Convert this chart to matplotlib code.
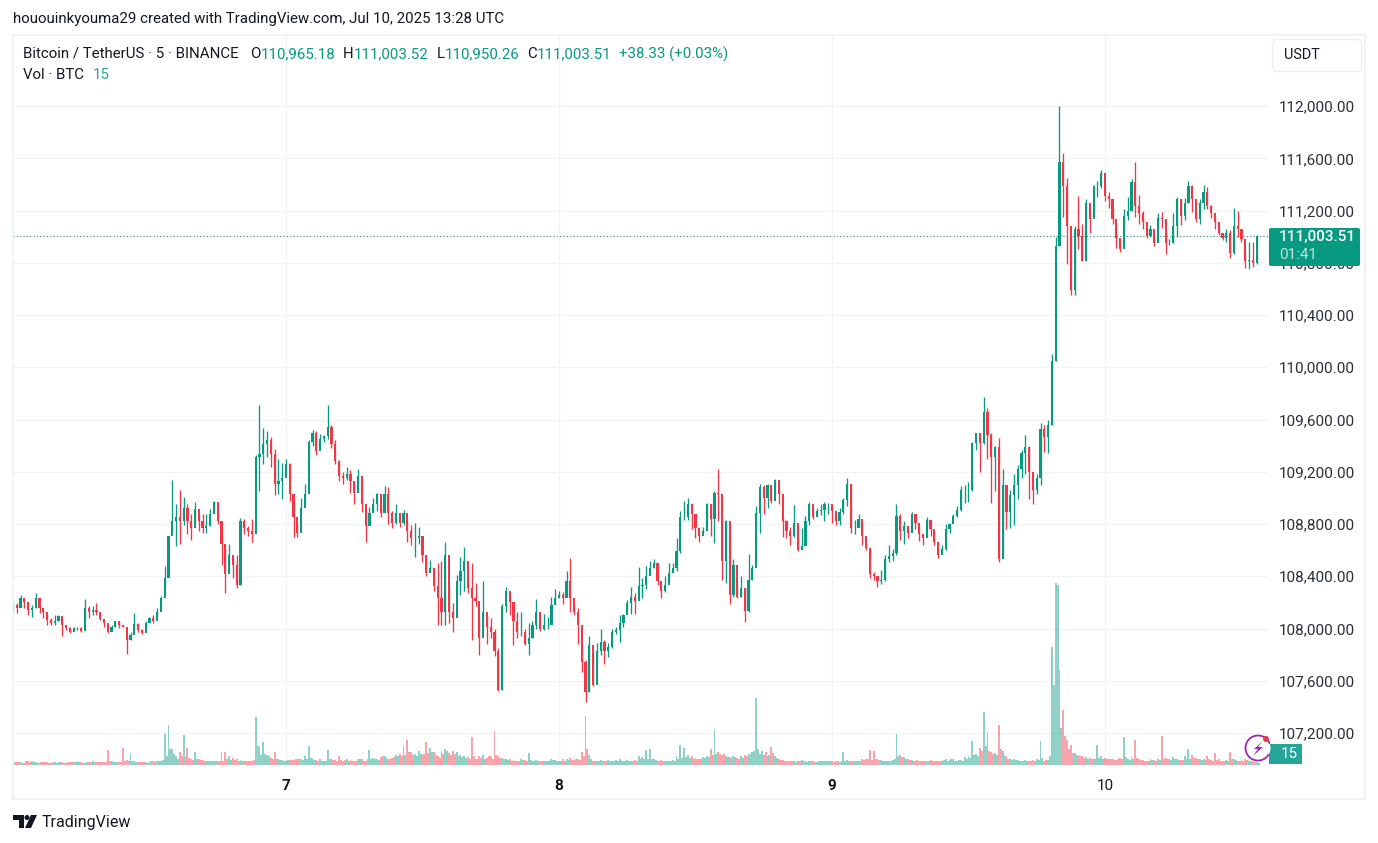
import matplotlib
matplotlib.use("Agg")
import matplotlib.pyplot as plt
from matplotlib.patches import Rectangle, FancyBboxPatch, Circle, Arc, Polygon

W, H = 1378, 843
plt.rcParams['font.family'] = ['Roboto', 'DejaVu Sans']

# 20 minute candles, each row is 4 hours
closes = [
    108180, 108155, 108235, 108205, 108145, 108155, 108230, 108155, 108125, 108065, 108040, 108055,
    108095, 108030, 108005, 107970, 108005, 108005, 107980, 108155, 108130, 108145, 108130, 108075,
    108040, 107970, 108015, 108055, 108025, 108015, 107915, 107950, 108035, 107990, 107965, 108040,
    108080, 108060, 108130, 108235, 108385, 108710, 108825, 108850, 108825, 108925, 108825, 108770,
    108915, 108825, 108770, 108785, 108875, 108965, 108825, 108645, 108415, 108565, 108490, 108335,
    108825, 108770, 108745, 108720, 109310, 109335, 109410, 109440, 109335, 109105, 109130, 109155,
    109260, 109030, 108850, 108735, 108925, 109030, 109425, 109500, 109360, 109450, 109475, 109540,
    109415, 109285, 109170, 109155, 109180, 109130, 109040, 109170, 108950, 108785, 108885, 108950,
    109030, 108885, 109030, 108885, 108810, 108885, 108810, 108885, 108745, 108695, 108695, 108710,
    108565, 108425, 108465, 108325, 108235, 108130, 108565, 108130, 108080, 108360, 108440, 108515,
    108310, 108235, 108210, 107925, 108130, 108015, 107975, 107825, 107530, 108170, 108290, 108205,
    108055, 107975, 107975, 107885, 107925, 108030, 108130, 108000, 108030, 108030, 108180, 108235,
    108260, 108235, 108360, 108235, 108130, 108030, 107745, 107515, 107875, 107565, 107825, 107900,
    107825, 107860, 107975, 107990, 108040, 108105, 108195, 108245, 108210, 108325, 108335, 108400,
    108465, 108500, 108360, 108285, 108335, 108425, 108465, 108590, 108850, 108850, 108950, 108875,
    108770, 108710, 108745, 108950, 108835, 109040, 109030, 108515, 108825, 108260, 108490, 108245,
    108310, 108135, 108375, 108465, 108885, 109080, 109000, 109100, 108975, 109135, 109030, 108825,
    108745, 108710, 108810, 108600, 108630, 108825, 108950, 108850, 108900, 108910, 108950, 108950,
    108900, 108825, 108890, 108985, 109105, 108770, 108770, 108835, 108710, 108620, 108415, 108400,
    108360, 108375, 108530, 108555, 108580, 108860, 108745, 108785, 108730, 108875, 108810, 108720,
    108690, 108830, 108765, 108660, 108560, 108610, 108765, 108800, 108865, 108905, 109060, 109060,
    109060, 109420, 109495, 109420, 109660, 109480, 109315, 109390, 108535, 109100, 108890, 109020,
    109100, 109225, 109340, 109390, 109200, 109060, 109150, 109530, 109470, 109560, 110050, 110930,
    111570, 111390, 111080, 110595, 111055, 111005, 110810, 111260, 111135, 111390, 111390, 111490,
    111315, 111290, 111135, 110990, 110905, 111160, 111200, 111415, 111235, 111185, 111110, 111005,
    111055, 110950, 111145, 111135, 110950, 110950, 111080, 111285, 111160, 111260, 111390, 111290,
    111135, 111260, 111340, 111235, 111185, 111110, 111030, 110990, 111030, 110875, 111080, 111055,
    110980, 110810, 110825, 110800, 111003.51,
]
highs = [
    108210, 108195, 108260, 108225, 108195, 108180, 108270, 108180, 108155, 108105, 108080, 108105,
    108105, 108065, 108015, 108010, 108015, 108015, 108010, 108225, 108170, 108170, 108195, 108130,
    108065, 108015, 108030, 108055, 108060, 108025, 107945, 107975, 108120, 108040, 108000, 108055,
    108090, 108105, 108155, 108250, 108475, 108710, 109140, 108950, 109060, 109010, 108950, 108875,
    108965, 108885, 108880, 108880, 108915, 108975, 108940, 108760, 108630, 108645, 108555, 108560,
    108845, 108840, 108785, 108840, 109330, 109710, 109535, 109515, 109465, 109375, 109300, 109270,
    109300, 109265, 109000, 108800, 109000, 109110, 109445, 109520, 109510, 109490, 109480, 109715,
    109560, 109440, 109290, 109200, 109240, 109210, 109130, 109220, 109160, 108860, 108930, 109000,
    109040, 108950, 109090, 109085, 108900, 108950, 108840, 108905, 108830, 108790, 108810, 108780,
    108640, 108565, 108525, 108465, 108500, 108520, 108665, 108320, 108195, 108410, 108545, 108625,
    108400, 108505, 108350, 108090, 108360, 108100, 108080, 108000, 107850, 108190, 108320, 108260,
    108130, 108130, 108130, 108000, 108040, 108060, 108225, 108100, 108110, 108090, 108240, 108300,
    108290, 108280, 108440, 108540, 108190, 108160, 107875, 107760, 107940, 107820, 107890, 108000,
    107910, 107890, 108000, 108010, 108100, 108110, 108220, 108320, 108270, 108470, 108385, 108475,
    108520, 108530, 108490, 108325, 108400, 108500, 108500, 108690, 108900, 108980, 109000, 108950,
    108850, 108730, 108780, 108960, 108950, 109050, 109225, 108830, 108830, 108700, 108530, 108330,
    108405, 108310, 108570, 108490, 108940, 109110, 109100, 109105, 109070, 109145, 109080, 108850,
    108830, 108780, 108945, 108730, 108770, 108860, 108970, 108900, 108920, 108950, 108965, 108960,
    108950, 108900, 108920, 109000, 109150, 109110, 108830, 108880, 108790, 108650, 108620, 108430,
    108400, 108450, 108560, 108640, 108610, 108950, 108880, 108820, 108770, 108890, 108880, 108770,
    108710, 108850, 108830, 108690, 108600, 108640, 108800, 108810, 108880, 108940, 109090, 109100,
    109120, 109430, 109500, 109500, 109770, 109690, 109500, 109400, 109460, 109220, 109100, 109060,
    109180, 109250, 109370, 109480, 109400, 109100, 109180, 109570, 109560, 109600, 110100, 111000,
    112000, 111640, 111450, 111010, 111080, 111310, 111100, 111290, 111190, 111395, 111430, 111510,
    111370, 111340, 111210, 111040, 110990, 111210, 111300, 111440, 111575, 111320, 111200, 111060,
    111090, 111000, 111185, 111190, 111040, 110980, 111180, 111300, 111290, 111295, 111430, 111395,
    111200, 111290, 111395, 111380, 111240, 111160, 111090, 111025, 111060, 111050, 111220, 111200,
    111050, 110880, 110960, 110960, 111010,
]
lows = [
    108130, 108120, 108170, 108155, 108105, 108090, 108155, 108120, 108080, 108030, 108030, 108030,
    108055, 107940, 107990, 107965, 107990, 107990, 107975, 108055, 108080, 108105, 108105, 108065,
    108015, 107965, 108005, 108010, 108005, 108010, 107805, 107915, 108000, 107975, 107955, 108000,
    108055, 108040, 108105, 108180, 108310, 108540, 108745, 108630, 108645, 108795, 108720, 108680,
    108825, 108745, 108735, 108735, 108785, 108885, 108800, 108490, 108270, 108490, 108385, 108310,
    108335, 108720, 108710, 108665, 109220, 109055, 109260, 109310, 109235, 109025, 109030, 108990,
    109190, 108980, 108700, 108700, 108900, 108975, 109290, 109395, 109330, 109400, 109430, 109450,
    109380, 109260, 109130, 109105, 109140, 109040, 108950, 109100, 108890, 108660, 108850, 108900,
    108900, 108855, 108960, 108800, 108770, 108800, 108780, 108790, 108660, 108640, 108550, 108650,
    108510, 108400, 108430, 108290, 108030, 108030, 108030, 108040, 107975, 108255, 108260, 108290,
    108270, 107915, 108170, 107800, 108070, 107880, 107930, 107790, 107520, 107530, 108130, 108100,
    107870, 107930, 107940, 107870, 107800, 107930, 108000, 107980, 107985, 108000, 108130, 108190,
    108235, 108190, 108260, 108130, 108100, 107880, 107670, 107435, 107515, 107560, 107740, 107800,
    107730, 107780, 107850, 107960, 107900, 108010, 108150, 108110, 108110, 108240, 108235, 108300,
    108420, 108460, 108330, 108235, 108280, 108390, 108430, 108440, 108580, 108830, 108830, 108760,
    108690, 108660, 108730, 108840, 108710, 108655, 108820, 108370, 108350, 108190, 108240, 108230,
    108240, 108050, 108130, 108370, 108600, 108730, 108880, 108920, 108960, 109090, 108950, 108700,
    108690, 108640, 108700, 108590, 108620, 108640, 108790, 108840, 108860, 108870, 108820, 108880,
    108810, 108790, 108790, 108880, 108940, 108730, 108720, 108780, 108640, 108600, 108390, 108370,
    108320, 108340, 108360, 108510, 108520, 108560, 108680, 108650, 108690, 108790, 108760, 108670,
    108640, 108790, 108710, 108640, 108540, 108590, 108600, 108730, 108830, 108850, 108900, 108960,
    108970, 109050, 109370, 109200, 109410, 109300, 108960, 109050, 108510, 108560, 108760, 108770,
    108790, 108990, 109150, 109180, 108990, 108950, 109030, 109100, 109350, 109340, 109560, 110050,
    110930, 111150, 110790, 110555, 110550, 110905, 110810, 110810, 111030, 111190, 111300, 111370,
    111270, 111220, 111100, 110910, 110880, 110940, 111130, 111200, 111150, 111100, 111060, 110990,
    111000, 110930, 110990, 111070, 110870, 110940, 110950, 111000, 111090, 111130, 111260, 111190,
    111110, 111100, 111210, 111210, 111140, 111060, 111010, 110975, 110960, 110840, 110870, 111000,
    110960, 110760, 110755, 110770, 110790,
]
# 10 minute volume in BTC, two bars per candle
volumes = [
    20, 18, 18, 22, 22, 15, 15, 25, 25, 18, 30, 20, 20, 15, 15, 22, 22, 18, 18, 16, 16, 18, 18, 15,
    18, 22, 20, 15, 15, 22, 20, 18, 22, 20, 28, 22, 18, 16, 16, 22, 22, 18, 30, 20, 20, 18, 18, 22,
    20, 18, 105, 28, 25, 20, 20, 18, 18, 22, 119, 30, 35, 28, 84, 25, 25, 22, 22, 18, 18, 20, 20, 15,
    18, 25, 25, 22, 28, 30, 30, 35, 217, 60, 280, 110, 112, 75, 60, 45, 91, 60, 210, 55, 119, 50, 45, 35,
    91, 40, 40, 35, 35, 30, 30, 28, 28, 25, 25, 30, 30, 25, 91, 30, 91, 40, 60, 38, 50, 35, 40, 30,
    35, 30, 30, 28, 28, 25, 25, 35, 336, 130, 126, 70, 161, 75, 70, 60, 50, 45, 91, 40, 40, 35, 35, 30,
    30, 35, 35, 38, 38, 40, 40, 45, 45, 35, 60, 45, 133, 50, 50, 35, 35, 30, 40, 30, 30, 25, 105, 40,
    45, 38, 38, 30, 60, 35, 30, 35, 45, 30, 35, 30, 30, 28, 40, 45, 45, 30, 30, 45, 105, 40, 50, 42,
    40, 35, 55, 60, 60, 50, 45, 40, 50, 55, 70, 60, 75, 60, 133, 70, 175, 90, 90, 70, 80, 60, 100, 75,
    70, 80, 161, 85, 120, 90, 90, 70, 60, 50, 100, 75, 110, 95, 85, 70, 98, 80, 90, 60, 70, 55, 60, 50,
    55, 45, 196, 60, 45, 40, 60, 50, 70, 45, 50, 60, 65, 45, 238, 70, 60, 50, 50, 40, 45, 35, 40, 30,
    35, 30, 30, 28, 40, 35, 35, 30, 84, 35, 30, 25, 35, 30, 28, 25, 30, 28, 25, 30, 40, 35, 35, 30,
    30, 28, 45, 30, 40, 35, 50, 35, 35, 40, 42, 35, 90, 60, 343, 110, 70, 40, 28, 25, 30, 28, 35, 30,
    28, 25, 35, 30, 30, 25, 32, 28, 40, 30, 28, 25, 35, 30, 30, 25, 35, 30, 60, 40, 55, 45, 105, 40,
    112, 45, 40, 35, 30, 28, 35, 30, 28, 25, 25, 28, 35, 30, 60, 40, 140, 50, 119, 55, 70, 50, 60, 45,
    50, 45, 45, 40, 55, 50, 60, 55, 110, 70, 252, 75, 90, 80, 70, 75, 60, 55, 55, 50, 65, 55, 50, 45,
    60, 50, 70, 65, 75, 80, 90, 100, 469, 110, 80, 100, 70, 90, 65, 70, 126, 85, 60, 50, 45, 38, 35, 30,
    30, 28, 28, 25, 25, 22, 30, 28, 35, 30, 25, 22, 30, 25, 28, 22, 22, 25, 25, 28, 28, 25, 30, 25,
    25, 22, 30, 25, 22, 28, 91, 30, 35, 25, 28, 30, 30, 25, 25, 30, 40, 35, 45, 40, 105, 35, 98, 40,
    40, 35, 35, 30, 30, 28, 28, 25, 35, 45, 217, 60, 70, 55, 55, 40, 40, 35, 35, 30, 30, 35, 28, 25,
    25, 30, 30, 28, 35, 30, 28, 25, 30, 28, 25, 35, 40, 30, 35, 45, 45, 30, 30, 38, 35, 28, 55, 45,
    60, 50, 168, 70, 80, 65, 120, 95, 371, 130, 231, 100, 90, 75, 85, 70, 280, 110, 100, 70, 60, 45, 45, 35,
    40, 35, 35, 30, 30, 28, 32, 30, 28, 30, 35, 30, 40, 32, 168, 50, 30, 35, 35, 60, 826, 560, 1274, 1260,
    665, 260, 385, 200, 175, 110, 140, 85, 85, 70, 70, 60, 60, 50, 55, 45, 50, 40, 45, 40, 140, 50, 60, 45,
    50, 42, 45, 40, 40, 35, 35, 45, 50, 40, 196, 55, 45, 38, 55, 40, 175, 50, 40, 35, 35, 30, 30, 28,
    45, 35, 35, 30, 40, 35, 203, 45, 50, 40, 40, 35, 55, 40, 45, 38, 35, 32, 60, 40, 112, 45, 70, 50,
    50, 40, 45, 38, 40, 32, 60, 40, 35, 30, 84, 35, 40, 30, 30, 28, 35, 30, 91, 40, 40, 35, 30, 28,
    35, 30, 40, 32, 30, 25, 25, 20, 18, 15,
]
price_ticks = [107200, 107600, 108000, 108400, 108800, 109200, 109600,
               110000, 110400, 110800, 111200, 111600, 112000]
day_ticks = [7, 8, 9, 10]

first_day = 6.0
candle_step = 1 / 72
up_col = '#089981'
down_col = '#F23645'
grid_col = '#F2F3F6'
text_col = '#131722'

x_vals = [first_day + i * candle_step for i in range(len(closes))]
opens = [closes[0]] + closes[:-1]
colors = [up_col if c >= o else down_col for o, c in zip(opens, closes)]
vol_x = [first_day + i * candle_step / 2 for i in range(len(volumes))]
vol_colors = [colors[i // 2] for i in range(len(volumes))]

fig = plt.figure(figsize=(W / 100, H / 100), dpi=100, facecolor='white')

# price pane, pixels 13..1268 across and 35..765 down
ax = fig.add_axes([13 / W, 1 - 765 / H, 1255 / W, 730 / H])
vol_ax = ax.twinx()
# volume goes on top so the grid stays behind the bars
ax.set_zorder(1)
vol_ax.set_zorder(2)
vol_ax.patch.set_visible(False)

# wicks and bodies
ax.vlines(x_vals, lows, highs, colors=colors, linewidth=0.95, zorder=3)
ax.bar(x_vals, [c - o for o, c in zip(opens, closes)], bottom=opens,
       width=candle_step * 0.58, color=colors, linewidth=0, zorder=4)
ax.axhline(closes[-1], color='#2F7F72', linewidth=0.8, linestyle=(0, (1, 2)), zorder=2)

ax.set_xlim(6.0, 6.0 + 1255 / 273)
ax.set_ylim(106955, 112544)
ax.set_yticks(price_ticks)
ax.set_yticklabels(['{:,.2f}'.format(p) for p in price_ticks], color='#2A2E39', fontsize=11)
ax.yaxis.tick_right()
ax.set_xticks(day_ticks)
ax.set_xticklabels([str(d) for d in day_ticks], color=text_col, fontsize=11)
for t, d in zip(ax.get_xticklabels(), day_ticks):
    if d != 10:
        t.set_fontweight('bold')
ax.tick_params(length=0)
ax.tick_params(axis='y', pad=8)
ax.tick_params(axis='x', pad=10)
ax.grid(True, color=grid_col, linewidth=0.9, zorder=0)
ax.set_axisbelow(True)
for s in ax.spines.values():
    s.set_visible(False)

# volume shares the pane, about 7 BTC per pixel
vol_ax.bar(vol_x, volumes, width=candle_step * 0.5, color=vol_colors, alpha=0.45, linewidth=0)
vol_ax.set_ylim(0, 5110)
vol_ax.set_yticks([])
for s in vol_ax.spines.values():
    s.set_visible(False)

# overlay in pixel coordinates for the chart furniture
over = fig.add_axes([0, 0, 1, 1], zorder=5)
over.set_xlim(0, W)
over.set_ylim(H, 0)
over.axis('off')

over.add_patch(Rectangle((13, 34.5), 1352, 764, fill=False, edgecolor='#F0F1F4', linewidth=1.3))
over.add_patch(FancyBboxPatch((1274, 41), 86, 29, boxstyle='round,pad=1.5,rounding_size=4',
                              facecolor='white', edgecolor='#ECEEF2', linewidth=1))
over.text(1284, 55, 'USDT', fontsize=10.4, color=text_col, va='center')


def label(x, y, s, col=text_col, **kw):
    over.text(x, y, s, color=col, fontsize=kw.pop('fontsize', 10.85), va='center', **kw)


label(13, 19, 'hououinkyouma29 created with TradingView.com, Jul 10, 2025 13:28 UTC')
label(23, 54, 'Bitcoin / TetherUS · 5 · BINANCE')
for x_l, letter, x_v, val in [(250, 'O', 261, '110,965.18'), (343, 'H', 354, '111,003.52'),
                              (437, 'L', 445, '110,950.26'), (527, 'C', 537, '111,003.51')]:
    label(x_l, 54, letter)
    label(x_v, 54, val, up_col)
label(619, 54, '+38.33 (+0.03%)', up_col)
label(23, 75, 'Vol · BTC')
label(93, 75, '15', '#26A69A')

# last price and volume tags
over.add_patch(FancyBboxPatch((1269, 228), 91, 38, boxstyle='round,pad=0,rounding_size=2',
                              facecolor=up_col, edgecolor='none'))
label(1279, 237, '111,003.51', 'white', fontsize=11, fontweight='medium')
label(1279, 255, '01:41', '#BFE5DE', fontsize=11)
over.add_patch(Rectangle((1269, 744), 33, 20, facecolor='#26A69A', edgecolor='none'))
label(1281, 754, '15', 'white', fontsize=11)

# alert badge
over.add_patch(Circle((1258, 748), 12.5, facecolor='white', edgecolor='none'))
over.add_patch(Arc((1258, 748), 25, 25, theta1=30, theta2=340, edgecolor='#9C27B0', linewidth=1.3))
over.add_patch(Polygon([(1263, 741), (1254, 749), (1258, 749), (1253, 756), (1263, 747), (1258, 747)],
                       facecolor='#9C27B0', edgecolor='none'))
over.add_patch(Circle((1266, 739), 3, facecolor='#F23645', edgecolor='none'))

# TradingView logo
over.add_patch(Polygon([(13, 815), (24, 815), (24, 828), (19, 828), (19, 820), (13, 820)],
                       facecolor=text_col, edgecolor='none'))
over.add_patch(Circle((27, 817.5), 2.5, facecolor=text_col, edgecolor='none'))
over.add_patch(Polygon([(31, 815), (37, 815), (31, 828), (25, 828)], facecolor=text_col, edgecolor='none'))
over.text(42, 822, 'TradingView', fontsize=11.5, color=text_col, va='center')

fig.savefig('out.png', dpi=100)
